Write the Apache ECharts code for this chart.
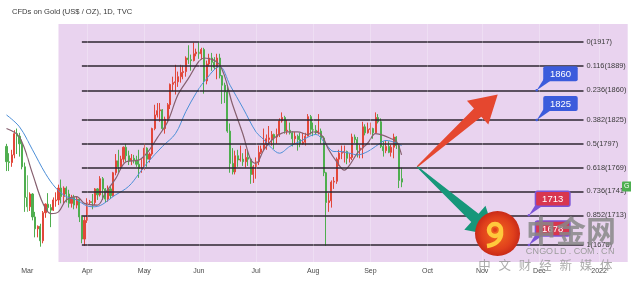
<!DOCTYPE html>
<html><head><meta charset="utf-8">
<script src="https://cdn.jsdelivr.net/npm/echarts@6/dist/echarts.min.js"></script>
<style>html,body{margin:0;padding:0;background:#fff}#c{width:631px;height:283px}</style>
</head><body><div id="c"></div>
<script>
// ---------- data ----------
const chartTitle = 'CFDs on Gold (US$ / OZ), 1D, TVC';
const firstDay = '2021-02-15';
const lastDay = '2022-01-18';
const firstCandle = '2021-02-17';
const monthNames = ['2022','Feb','Mar','Apr','May','Jun','Jul','Aug','Sep','Oct','Nov','Dec'];

// [open, close, low, high] per trading day from 2021-02-17
const ohlc = [
 // Feb
 [1794,1776,1765,1797],[1776,1775,1765,1786],[1775,1784,1770,1790],[1784,1809,1780,1813],[1809,1806,1785,1815],
 [1806,1797,1782,1810],[1797,1770,1767,1802],[1770,1734,1717,1775],
 // Mar
 [1734,1723,1717,1760],[1723,1738,1718,1740],[1738,1711,1707,1739],[1711,1697,1687,1717],[1697,1700,1687,1701],
 [1700,1683,1676,1703],[1683,1716,1680,1718],[1716,1726,1710,1727],[1726,1722,1717,1739],[1722,1719,1699,1726],
 [1719,1731,1718,1734],[1730,1731,1723,1740],[1731,1745,1725,1749],[1745,1735,1727,1755],[1735,1745,1726,1747],
 [1745,1738,1728,1747],[1738,1727,1722,1743],[1727,1734,1722,1737],[1734,1725,1720,1737],[1725,1732,1721,1735],
 [1732,1711,1705,1732],[1711,1685,1680,1713],[1685,1707,1677,1712],
 // Apr
 [1707,1728,1704,1733],[1728,1729,1726,1731],[1729,1728,1720,1738],[1728,1744,1725,1745],[1744,1737,1731,1745],
 [1737,1756,1735,1759],[1756,1744,1731,1758],[1744,1732,1728,1745],[1732,1744,1729,1748],[1744,1736,1732,1747],
 [1736,1763,1735,1764],[1763,1777,1760,1785],[1777,1770,1763,1790],[1770,1779,1768,1783],[1779,1793,1775,1794],
 [1793,1783,1776,1797],[1783,1777,1772,1789],[1777,1780,1772,1785],[1780,1778,1774,1784],[1778,1773,1770,1783],
 [1773,1768,1757,1790],[1767,1769,1763,1779],
 // May
 [1769,1792,1766,1798],[1792,1779,1770,1793],[1779,1785,1775,1787],[1785,1815,1783,1816],[1815,1831,1813,1843],
 [1831,1836,1828,1845],[1836,1837,1823,1845],[1837,1815,1813,1838],[1815,1826,1809,1829],[1826,1843,1823,1845],
 [1843,1867,1838,1868],[1867,1869,1859,1876],[1869,1870,1855,1890],[1870,1876,1864,1882],[1876,1881,1869,1890],
 [1881,1882,1873,1889],[1882,1898,1876,1900],[1898,1896,1891,1913],[1896,1895,1883,1902],[1895,1903,1894,1916],
 [1903,1905,1900,1909],
 // Jun
 [1905,1903,1897,1916],[1903,1908,1896,1910],[1908,1871,1856,1910],[1871,1891,1867,1895],[1891,1898,1888,1903],
 [1898,1893,1883,1904],[1893,1887,1885,1899],[1887,1898,1873,1903],[1898,1877,1874,1903],[1877,1866,1844,1878],
 [1866,1858,1845,1869],[1858,1812,1810,1865],[1812,1774,1763,1821],[1774,1764,1761,1792],[1764,1783,1761,1789],
 [1783,1778,1770,1790],[1778,1779,1776,1795],[1779,1776,1771,1786],[1776,1781,1769,1791],[1781,1779,1771,1789],
 [1779,1761,1750,1780],[1761,1770,1751,1772],
 // Jul
 [1770,1776,1756,1781],[1776,1787,1772,1795],[1787,1791,1785,1795],[1791,1796,1789,1815],[1796,1803,1790,1808],
 [1802,1804,1796,1818],[1803,1808,1795,1812],[1808,1805,1791,1809],[1805,1808,1797,1815],[1808,1824,1805,1827],
 [1824,1828,1822,1834],[1828,1812,1809,1830],[1812,1813,1808,1825],[1813,1810,1808,1822],[1810,1803,1794,1812],
 [1803,1806,1797,1811],[1806,1802,1789,1808],[1802,1797,1793,1810],[1797,1799,1796,1810],[1799,1806,1795,1810],
 [1806,1829,1806,1832],[1829,1814,1808,1831],
 // Aug
 [1814,1813,1806,1822],[1813,1810,1808,1819],[1810,1812,1808,1832],[1812,1804,1797,1815],[1804,1763,1759,1806],
 [1763,1728,1677,1764],[1728,1730,1717,1739],[1730,1752,1722,1754],[1752,1753,1744,1758],[1753,1779,1750,1781],
 [1779,1786,1771,1790],[1786,1787,1779,1795],[1787,1788,1775,1795],[1788,1780,1773,1789],[1780,1781,1775,1786],
 [1781,1805,1778,1809],[1805,1802,1798,1808],[1802,1790,1781,1805],[1790,1792,1780,1796],[1792,1817,1780,1823],
 [1817,1810,1807,1820],[1810,1814,1809,1822],
 // Sep
 [1814,1815,1808,1822],[1815,1810,1803,1816],[1810,1828,1809,1834],[1828,1823,1821,1832],[1823,1794,1792,1827],
 [1794,1789,1782,1800],[1789,1794,1786,1801],[1794,1787,1786,1800],[1787,1793,1782,1796],[1793,1805,1780,1809],
 [1805,1795,1791,1806],[1795,1754,1745,1795],[1756,1752,1746,1769]
];

// moving averages: [date, price]
const maSlow = [
 ['2021-02-17',1831],['2021-02-24',1817],['2021-03-03',1790],['2021-03-10',1762],['2021-03-16',1745],
 ['2021-03-22',1735],['2021-03-26',1731],['2021-04-01',1724],['2021-04-06',1723],['2021-04-16',1737],
 ['2021-04-23',1747],['2021-04-29',1762],['2021-05-04',1774],['2021-05-12',1794],['2021-05-19',1809],
 ['2021-05-25',1835],['2021-05-31',1857],['2021-06-03',1870],['2021-06-11',1888],['2021-06-17',1866],
 ['2021-06-24',1839],['2021-07-01',1811],['2021-07-06',1802],['2021-07-09',1792],['2021-07-14',1786],
 ['2021-07-20',1794],['2021-07-26',1800],['2021-08-03',1808],['2021-08-09',1796],['2021-08-12',1788],
 ['2021-08-16',1788],['2021-08-20',1786],['2021-08-25',1784],['2021-08-31',1788],['2021-09-03',1794],
 ['2021-09-09',1801],['2021-09-15',1798],['2021-09-17',1795]
];
const maFast = [
 ['2021-02-17',1815],['2021-02-24',1805],['2021-03-03',1762],['2021-03-09',1727],['2021-03-12',1715],
 ['2021-03-17',1717],['2021-03-22',1731],['2021-03-26',1735],['2021-03-31',1727],['2021-04-07',1725],
 ['2021-04-12',1739],['2021-04-16',1756],['2021-04-22',1776],['2021-04-29',1778],['2021-05-04',1786],
 ['2021-05-10',1804],['2021-05-14',1823],['2021-05-20',1855],['2021-05-26',1874],['2021-06-01',1894],
 ['2021-06-03',1898],['2021-06-11',1890],['2021-06-18',1843],['2021-06-24',1808],['2021-06-29',1778],
 ['2021-07-01',1774],['2021-07-06',1790],['2021-07-12',1804],['2021-07-19',1811],['2021-07-23',1811],
 ['2021-07-29',1808],['2021-08-02',1811],['2021-08-05',1808],['2021-08-10',1790],['2021-08-13',1776],
 ['2021-08-18',1766],['2021-08-20',1772],['2021-08-25',1786],['2021-08-31',1798],['2021-09-03',1809],
 ['2021-09-08',1807],['2021-09-13',1803],['2021-09-15',1800],['2021-09-17',1784]
];

// Fibonacci retracement
const fibRatios = ['0','0.116','0.236','0.382','0.5','0.618','0.736','0.852','1'];
const fibPrices = [1917,1889,1860,1825,1797,1769,1741,1713,1678];
const fibStart = '2021-03-30';
const fibEnd = '2021-12-24';
const shadeStart = '2021-03-17';

// callouts
const calloutTexts = ['1860','1825','1713','1678'];
const calloutPrices = [1860,1825,1713,1678];
const calloutDates = ['2021-11-30','2021-11-30','2021-11-25','2021-11-25'];
const calloutKinds = ['blue','blue','red','red'];

// arrows: [tailDate, tailPrice, tipDate, tipPrice]
const arrows = [
 ['2021-09-27',1770,'2021-11-09',1855],
 ['2021-09-27',1770,'2021-11-08',1689]
];
const arrowColors = ['#e5472f','#17977a'];

// ---------- build ----------
const categories = [];
(function(){
  const a = new Date(firstDay + 'T00:00:00Z').getTime();
  const b = new Date(lastDay + 'T00:00:00Z').getTime();
  for (let t = a; t <= b; t += 86400000) {
    const d = new Date(t), wd = d.getUTCDay();
    if (wd !== 0 && wd !== 6) categories.push(d.toISOString().slice(0,10));
  }
})();
const c0 = categories.indexOf(firstCandle);
const candleData = categories.map((c, i) =>
  (i >= c0 && i < c0 + ohlc.length) ? ohlc[i - c0] : ['-','-','-','-']);
const monthOf = s => +s.slice(5,7);
const isMonthStart = idx => idx > 0 && monthOf(categories[idx]) !== monthOf(categories[idx-1]);

const FONT = 'Liberation Sans';
const UP = '#e2473a', DOWN = '#4fae4f';

const fibLines = fibPrices.map((p, i) => [
  {name: fibRatios[i] + '(' + p + ')', coord: [fibStart, p]},
  {coord: [fibEnd, p]}
]);
const monthLines = categories.filter((c, i) => isMonthStart(i)).map(c => ({xAxis: c}));

const chart = echarts.init(document.getElementById('c'), null, {renderer: 'canvas'});
const wmChars = ['中','文','财','经','新','媒','体'];
const cnChars = 'CNGOLD.COM.CN'.split('');
const graphics = [
  {type:'text', x:12, y:11.5, z:100, style:{text: chartTitle, fill:'#3a3a3a', font:'7.6px ' + FONT, verticalAlign:'middle'}},
  // logo
  {type:'circle', z:100, shape:{cx:497.5, cy:233.5, r:22.5},
    style:{fill:{type:'radial', x:0.5, y:0.5, r:0.5, colorStops:[{offset:0,color:'#f26a1f'},{offset:0.7,color:'#e0401c'},{offset:1,color:'#c92a17'}]}}},
  {type:'arc', z:101, shape:{cx:495, cy:230, r:6, startAngle:0, endAngle:Math.PI*2}, style:{stroke:'#ffc93c', lineWidth:4.5, fill:null}},
  {type:'bezierCurve', z:101, shape:{x1:501, y1:231, cpx1:502, cpy1:241, x2:487, y2:246, cpx2:494, cpy2:245}, style:{stroke:'#ffc93c', lineWidth:4.5, fill:null}},
  {type:'circle', z:101, shape:{cx:495, cy:230, r:2}, style:{fill:'#e0401c'}},
  // watermark text
  {type:'text', x:571, y:231, z:102, style:{text:'中金网', fill:'rgba(135,135,135,0.85)', font:'bold 30px "Noto Sans CJK SC"', align:'center', verticalAlign:'middle'}},
  // price tag at right
  {type:'rect', z:100, shape:{x:622, y:181.5, width:14, height:10, r:1}, style:{fill:'#4caf50'}},
  {type:'text', x:624, y:186.5, z:101, style:{text:'G', fill:'#fff', font:'7px ' + FONT, verticalAlign:'middle'}}
];
cnChars.forEach((ch, i) => graphics.push({type:'text', x:529 + i*6.85, y:251.5, z:102,
  style:{text:ch, fill:'#9c9c9c', font:'9px ' + FONT, align:'center', verticalAlign:'middle'}}));
wmChars.forEach((ch, i) => graphics.push({type:'text', x:484.5 + i*20.3, y:265.5, z:102,
  style:{text:ch, fill:'rgba(150,150,150,0.8)', font:'12.5px "Noto Sans CJK SC"', align:'center', verticalAlign:'middle'}}));

chart.setOption({
  animation: false,
  backgroundColor: '#fff',
  grid: {left: 0, right: 2, top: 24, bottom: 21},
  xAxis: {
    type: 'category', data: categories, boundaryGap: true,
    axisLine: {show: false}, axisTick: {show: false},
    axisLabel: {
      interval: (idx) => isMonthStart(idx),
      formatter: (v) => monthNames[monthOf(v) - 1],
      color: '#4a4a4a', fontSize: 7, fontFamily: FONT, margin: 6
    },
    splitLine: {show: false}
  },
  yAxis: {type: 'value', min: 1658, max: 1938, show: false, splitLine: {show: false}},
  series: [
    {
      type: 'candlestick', data: candleData, barWidth: 1.6,
      itemStyle: {color: UP, color0: DOWN, borderColor: UP, borderColor0: DOWN, borderWidth: 1},
      markArea: {silent: true, itemStyle: {color: '#e9d3ef'},
        data: [[{xAxis: shadeStart}, {xAxis: categories[categories.length - 1]}]]},
      markLine: {silent: true, symbol: ['none','none'], animation: false,
        lineStyle: {color: '#2d2630', width: 1.5, type: 'solid'},
        label: {show: true, position: 'end', formatter: '{b}', color: '#3a3a3a', fontSize: 7.4, fontFamily: FONT, distance: 3},
        data: fibLines}
    },
    {
      type: 'line', data: maSlow, smooth: 0.35, symbol: 'none',
      lineStyle: {color: '#4c8fd8', width: 1},
      markLine: {silent: true, symbol: ['none','none'], label: {show: false},
        lineStyle: {color: 'rgba(255,255,255,0.25)', width: 1, type: 'solid'}, data: monthLines}
    },
    {
      type: 'line', data: maFast, smooth: 0.35, symbol: 'none',
      lineStyle: {color: '#86606f', width: 1.2}
    },
    {
      type: 'custom', data: arrows, encode: {x: [0, 2], y: [1, 3]}, z: 6,
      renderItem: (params, api) => {
        const p0 = api.coord([api.value(0), api.value(1)]);
        const p1 = api.coord([api.value(2), api.value(3)]);
        const dx = p1[0]-p0[0], dy = p1[1]-p0[1], L = Math.hypot(dx, dy);
        const ux = dx/L, uy = dy/L, nx = -uy, ny = ux;
        const hl = 27, hw = 16, sw = 5.5, tw = 0.6;
        const bx = p1[0]-ux*hl, by = p1[1]-uy*hl;
        const pts = [
          [p0[0]+nx*tw, p0[1]+ny*tw], [bx+nx*sw, by+ny*sw], [bx+nx*hw, by+ny*hw], p1,
          [bx-nx*hw, by-ny*hw], [bx-nx*sw, by-ny*sw], [p0[0]-nx*tw, p0[1]-ny*tw]
        ];
        return {type: 'polygon', shape: {points: pts}, style: {fill: arrowColors[params.dataIndex]}};
      }
    },
    {
      type: 'custom', z: 6,
      data: calloutDates.map((d, i) => [d, calloutPrices[i]]),
      renderItem: (params, api) => {
        const i = params.dataIndex;
        const p = api.coord([api.value(0), api.value(1)]);
        const blue = calloutKinds[i] === 'blue';
        const fill = blue ? '#3b5bdc' : '#d8364f';
        const edge = blue ? '#3b5bdc' : '#7b55d6';
        const w = 34.5, h = 15, bx = p[0] + 6.5, by = p[1] - 24;
        return {type: 'group', children: [
          {type: 'polygon', shape: {points: [[p[0], p[1]], [bx + 1, by + h - 3], [bx + 8, by + h - 1]]}, style: {fill: edge}},
          {type: 'circle', shape: {cx: p[0], cy: p[1], r: 1.3}, style: {fill: edge}},
          {type: 'rect', shape: {x: bx, y: by, width: w, height: h, r: 2}, style: {fill: fill, stroke: edge, lineWidth: blue ? 0 : 1.5}},
          {type: 'text', style: {text: calloutTexts[i], x: bx + w/2, y: by + h/2 + 0.5, align: 'center', verticalAlign: 'middle', fill: '#fff', font: '9.5px ' + FONT}}
        ]};
      }
    }
  ],
  graphic: graphics
});
</script></body></html>
